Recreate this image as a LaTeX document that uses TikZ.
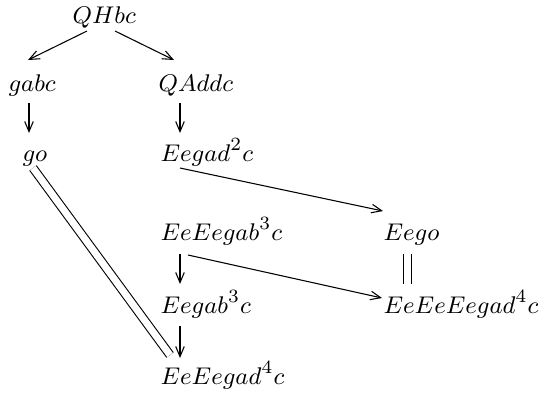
\documentclass[tikz,border=0pt]{standalone}
\usetikzlibrary{arrows.meta}
\begin{document}
\begin{tikzpicture}[x=0.373pt,y=-0.373pt,
  lbl/.style={anchor=base west,inner sep=0pt,font=\fontsize{9.5}{12}\selectfont},
  arr/.style={line width=0.4pt,-{Straight Barb[length=3.8pt,width=3.2pt]}},
  eq/.style={line width=0.4pt,double,double distance=2.6pt}]
\useasboundingbox (0,0) rectangle (547,396);
\node[lbl] (q)  at (72,23)  {$QHbc$};
\node[lbl] (g1) at (8,91)   {$gabc$};
\node[lbl] (qa) at (158,91) {$QAddc$};
\node[lbl] (go) at (22,161) {$go$};
\node[lbl] (e2) at (160,161) {$Eegad^2c$};
\node[lbl] (e3) at (160,240) {$EeEegab^3c$};
\node[lbl] (eg) at (383,240) {$Eego$};
\node[lbl] (eb) at (160,313) {$Eegab^3c$};
\node[lbl] (r)  at (383,313) {$EeEeEegad^4c$};
\node[lbl] (f)  at (160,384) {$EeEegad^4c$};
\draw[arr] ([shift={(15,8)}]q.base west) -- ([shift={(20,-31)}]g1.base west);
\draw[arr] ([shift={(43,8)}]q.base west) -- ([shift={(16,-31)}]qa.base west);
\draw[arr] ([shift={(21,12)}]g1.base west) -- ([shift={(7,-28)}]go.base west);
\draw[arr] ([shift={(22,12)}]qa.base west) -- ([shift={(20,-28)}]e2.base west);
\draw[arr] ([shift={(20,7)}]e2.base west) -- ([shift={(0,-29)}]eg.base west);
\draw[eq]  ([shift={(11,7)}]go.base west) -- ([shift={(10,-29)}]f.base west);
\draw[arr] ([shift={(20,14)}]e3.base west) -- ([shift={(20,-29)}]eb.base west);
\draw[arr] ([shift={(28,15)}]e3.base west) -- ([shift={(-1,-15)}]r.base west);
\draw[eq]  ([shift={(24.5,14)}]eg.base west) -- ([shift={(24.5,-29)}]r.base west);
\draw[arr] ([shift={(20,13)}]eb.base west) -- ([shift={(20,-26)}]f.base west);
\end{tikzpicture}
\end{document}
